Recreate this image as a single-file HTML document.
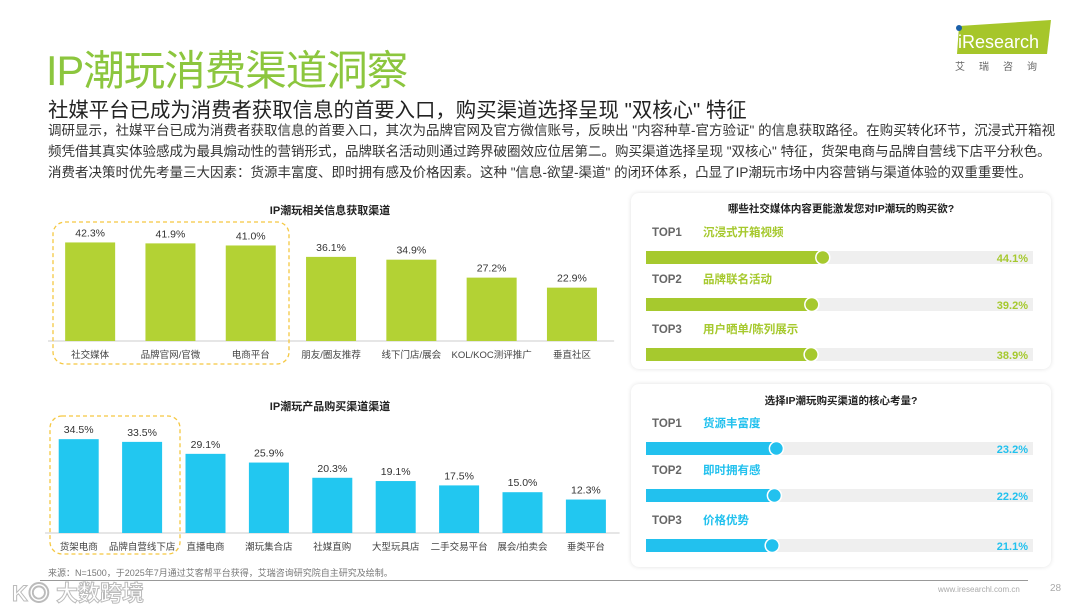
<!DOCTYPE html>
<html><head><meta charset="utf-8"><style>
body{margin:0;background:#fff;}
#page{position:relative;width:1080px;height:608px;overflow:hidden;background:#fff;font-family:"Liberation Sans","Noto Sans CJK SC",sans-serif;}
.abs{position:absolute;white-space:nowrap;}
.card{position:absolute;background:#fff;border-radius:8px;box-shadow:0 0 5px rgba(0,0,0,0.12);}
</style></head><body>
<div id="page">
<div class="abs" style="left:46px;top:37px;font-size:41.5px;color:#8cc63e;letter-spacing:-1px;">IP潮玩消费渠道洞察</div>
<div class="abs" style="left:48px;top:93px;font-size:20.4px;color:#222;">社媒平台已成为消费者获取信息的首要入口，购买渠道选择呈现 "双核心" 特征</div>
<div class="abs" style="left:48px;top:120px;width:1012px;white-space:normal;font-size:13.5px;line-height:21px;color:#333;">调研显示，社媒平台已成为消费者获取信息的首要入口，其次为品牌官网及官方微信账号，反映出 "内容种草-官方验证" 的信息获取路径。在购买转化环节，沉浸式开箱视频凭借其真实体验感成为最具煽动性的营销形式，品牌联名活动则通过跨界破圈效应位居第二。购买渠道选择呈现 "双核心" 特征，货架电商与品牌自营线下店平分秋色。消费者决策时优先考量三大因素：货源丰富度、即时拥有感及价格因素。这种 "信息-欲望-渠道" 的闭环体系，凸显了IP潮玩市场中内容营销与渠道体验的双重重要性。</div>
<div style="position:absolute;left:953px;top:20px;width:98px;height:34px;">
<svg width="98" height="34"><polygon points="6,6 98,0 94,34 4,34" fill="#a6c62a"/><circle cx="6" cy="8" r="3" fill="#1a5fa8"/><text x="5" y="28" font-family="Liberation Sans" font-size="18" fill="#fff">iResearch</text></svg></div>
<div class="abs" style="left:955px;top:58px;font-size:10px;color:#666;letter-spacing:14px;">艾瑞咨询</div>

<svg id="leftcharts" width="630" height="580" style="position:absolute;left:0;top:0"></svg>
<div class="card" style="left:631px;top:193px;width:420px;height:176px;"></div>
<div class="card" style="left:631px;top:384px;width:420px;height:183px;"></div>
<svg id="rightcharts" width="1080" height="608" style="position:absolute;left:0;top:0"></svg>

<div class="abs" style="left:48px;top:566px;font-size:9px;color:#777;">来源：N=1500，于2025年7月通过艾客帮平台获得，艾瑞咨询研究院自主研究及绘制。</div>
<div style="position:absolute;left:40px;top:580px;width:988px;height:1px;background:#999;"></div>
<div class="abs" style="left:938px;top:585px;font-size:8px;color:#aaa;">www.iresearchl.com.cn</div>
<div class="abs" style="left:1050px;top:583px;font-size:10px;color:#aaa;">28</div>
<div class="abs" style="left:12px;top:576px;font-size:22px;color:#fff;font-weight:bold;-webkit-text-stroke:1px #bbb;">K◎ 大数跨境</div>
</div>
<script>
var NS="http://www.w3.org/2000/svg";
function mk(svg,tag,attrs,txt){var e=document.createElementNS(NS,tag);for(var k in attrs)e.setAttribute(k,attrs[k]);if(txt!=null)e.textContent=txt;svg.appendChild(e);return e;}
var FONT='"Liberation Sans","Noto Sans CJK SC",sans-serif';

var infoCategories=["社交媒体","品牌官网/官微","电商平台","朋友/圈友推荐","线下门店/展会","KOL/KOC测评推广","垂直社区"];
var infoValues=[42.3,41.9,41.0,36.1,34.9,27.2,22.9];
var buyCategories=["货架电商","品牌自营线下店","直播电商","潮玩集合店","社媒直购","大型玩具店","二手交易平台","展会/拍卖会","垂类平台"];
var buyValues=[34.5,33.5,29.1,25.9,20.3,19.1,17.5,15.0,12.3];
var socialLabels=["沉浸式开箱视频","品牌联名活动","用户晒单/陈列展示"];
var socialValues=[44.1,39.2,38.9];
var factorLabels=["货源丰富度","即时拥有感","价格优势"];
var factorValues=[23.2,22.2,21.1];

var L=document.getElementById('leftcharts');
function barChart(o){
  mk(L,'text',{x:o.cx,y:o.titleY,'text-anchor':'middle','font-size':11,'font-weight':'bold',fill:'#222','font-family':FONT},o.title);
  mk(L,'line',{x1:o.x0-12,x2:o.x0+o.step*o.cats.length-8,y1:o.base,y2:o.base,stroke:'#ccc'});
  for(var i=0;i<o.cats.length;i++){
    var c=o.x0+o.step*i+o.step/2-10, h=o.vals[i]*o.k;
    var r=mk(L,'rect',{x:c-o.w/2,y:o.base-h,width:o.w,height:h,fill:o.color});
    
    
    var t=mk(L,'text',{x:c,y:o.base-h-6,'text-anchor':'middle','font-size':10.5,fill:'#333','font-family':FONT},o.vals[i].toFixed(1)+'%');
    
    var l=mk(L,'text',{x:c,y:o.base+17,'text-anchor':'middle','font-size':9.5,fill:'#444','font-family':FONT},o.cats[i]);
    
  }
}
barChart({name:'info-chart',title:'IP潮玩相关信息获取渠道',cx:330,titleY:214,cats:infoCategories,vals:infoValues,x0:60,step:80.3,w:50,base:341,k:2.33,color:'#b3d234'});
var b1=mk(L,'rect',{x:53,y:222,width:236,height:142,rx:12,fill:'none',stroke:'#f5c842','stroke-dasharray':'4,3','stroke-width':1.3});

barChart({name:'buy-chart',title:'IP潮玩产品购买渠道渠道',cx:330,titleY:410,cats:buyCategories,vals:buyValues,x0:57,step:63.4,w:40,base:533,k:2.72,color:'#22c7f0'});
var b2=mk(L,'rect',{x:50,y:416,width:130,height:138,rx:12,fill:'none',stroke:'#f5c842','stroke-dasharray':'4,3','stroke-width':1.3});


var R=document.getElementById('rightcharts');
function topPanel(o){
  var t=mk(R,'text',{x:841,y:o.titleY,'text-anchor':'middle','font-size':10.5,'font-weight':'bold',fill:'#222','font-family':FONT},o.title);
  
  for(var i=0;i<o.labels.length;i++){
    var y=o.rowY[i];
    mk(R,'text',{x:652,y:y,'font-size':11.5,'font-weight':'bold',fill:'#666','font-family':FONT},'TOP'+(i+1));
    mk(R,'text',{x:703,y:y,'font-size':11.5,'font-weight':'bold',fill:o.color,'font-family':FONT},o.labels[i]);
    var by=y+15;
    mk(R,'rect',{x:646,y:by,width:387,height:13,fill:'#efefef'});
    var ex=o.a+o.b*o.vals[i];
    var f=mk(R,'rect',{x:646,y:by,width:ex-646,height:13,fill:o.color});
    
    
    var c=mk(R,'circle',{cx:ex,cy:by+6.5,r:7,fill:o.color,stroke:'#fff','stroke-width':1.5});
    
    mk(R,'text',{x:1028,y:by+11,'text-anchor':'end','font-size':11,'font-weight':'bold',fill:o.color,'font-family':FONT},o.vals[i].toFixed(1)+'%');
  }
}
topPanel({name:'social-content',title:'哪些社交媒体内容更能激发您对IP潮玩的购买欲?',titleY:212,labels:socialLabels,vals:socialValues,rowY:[236,283,333],a:724,b:2.24,color:'#a6c92e'});
topPanel({name:'purchase-factor',title:'选择IP潮玩购买渠道的核心考量?',titleY:404,labels:factorLabels,vals:factorValues,rowY:[427,474,524],a:730,b:2.0,color:'#22c1ee'});
</script>
</body></html>
